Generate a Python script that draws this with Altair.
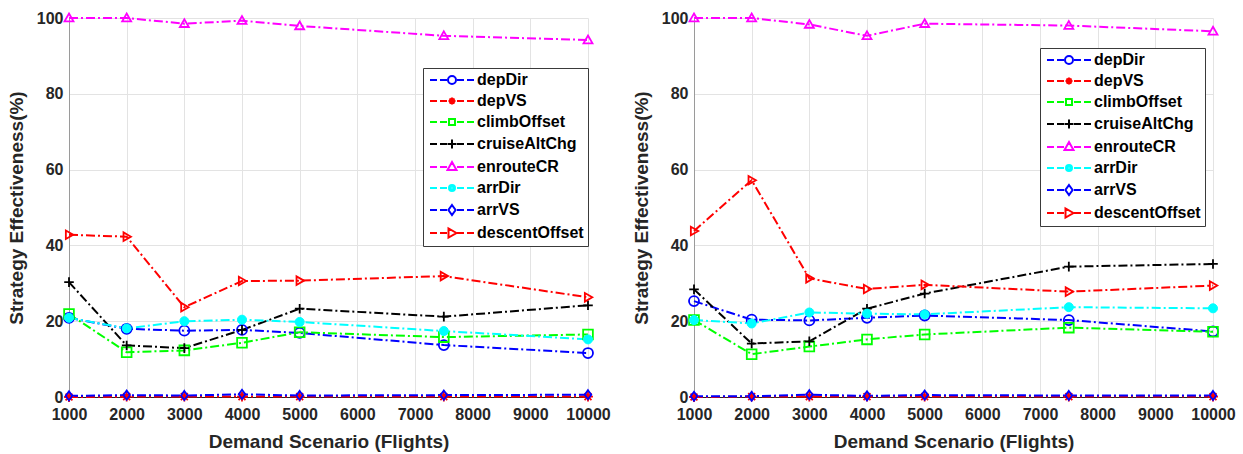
import altair as alt
import pandas as pd

# ---------------- data ----------------
demand = [1000, 2000, 3000, 4000, 5000, 7500, 10000]
series = ["depDir", "depVS", "climbOffset", "cruiseAltChg", "enrouteCR", "arrDir", "arrVS", "descentOffset"]
colors = ["#0000FF", "#FF0000", "#00FF00", "#000000", "#FF00FF", "#00FFFF", "#0000FF", "#FF0000"]

# left panel
left_depDir = [20.9, 18.0, 17.5, 17.7, 16.9, 13.7, 11.6]
left_depVS = [0.0, 0.1, 0.1, 0.1, 0.1, 0.1, 0.1]
left_climbOffset = [21.9, 11.8, 12.3, 14.3, 17.1, 15.8, 16.5]
left_cruiseAltChg = [30.3, 13.6, 12.9, 17.7, 23.3, 21.2, 24.2]
left_enrouteCR = [100.0, 100.0, 98.5, 99.3, 97.9, 95.3, 94.2]
left_arrDir = [20.9, 18.1, 20.0, 20.4, 19.8, 17.4, 15.2]
left_arrVS = [0.3, 0.5, 0.4, 0.7, 0.4, 0.5, 0.6]
left_descentOffset = [42.8, 42.3, 23.7, 30.6, 30.7, 31.9, 26.3]

# right panel
right_depDir = [25.3, 20.4, 20.2, 20.9, 21.5, 20.3, 17.3]
right_depVS = [0.0, 0.1, 0.1, 0.1, 0.1, 0.1, 0.1]
right_climbOffset = [20.3, 11.3, 13.3, 15.2, 16.5, 18.3, 17.2]
right_cruiseAltChg = [28.4, 14.1, 14.7, 23.3, 27.3, 34.4, 35.1]
right_enrouteCR = [100.0, 100.0, 98.3, 95.3, 98.5, 98.0, 96.5]
right_arrDir = [20.3, 19.4, 22.3, 22.0, 21.8, 23.7, 23.4]
right_arrVS = [0.2, 0.2, 0.6, 0.3, 0.5, 0.4, 0.4]
right_descentOffset = [43.8, 57.2, 31.3, 28.5, 29.6, 27.8, 29.4]

x_ticks = [1000, 2000, 3000, 4000, 5000, 6000, 7000, 8000, 9000, 10000]
y_ticks = [0, 20, 40, 60, 80, 100]

left_lists = [left_depDir, left_depVS, left_climbOffset, left_cruiseAltChg,
              left_enrouteCR, left_arrDir, left_arrVS, left_descentOffset]
right_lists = [right_depDir, right_depVS, right_climbOffset, right_cruiseAltChg,
               right_enrouteCR, right_arrDir, right_arrVS, right_descentOffset]


def to_frame(lists):
    rows = []
    for name, vals in zip(series, lists):
        for xv, yv in zip(demand, vals):
            rows.append({"series": name, "demand": xv, "value": yv})
    return pd.DataFrame(rows)


# ---------------- styling ----------------
FONT = "Liberation Sans"
TXT = "#262626"

# plot marker shapes (unit paths)
marker_shapes = [
    "circle",
    "M-1,0H1M0,-1V1M-0.7,-0.7L0.7,0.7M-0.7,0.7L0.7,-0.7",
    "M-1,-1H1V1H-1Z",
    "M-1,0H1M0,-1V1",
    "M0,-0.95L0.95,0.7L-0.95,0.7Z",
    "circle",
    "M0,-1L0.72,0L0,1L-0.72,0Z",
    "M0.95,0L-0.7,-0.95L-0.7,0.95Z",
]
marker_sizes = [100, 81, 64, 144, 169, 81, 144, 160]

# legend symbols (symbolSize 4 -> one path unit = one pixel):
# dashed line with the marker in the middle
DASH = "M-22,0H-15M-12,0H-5M5,0H12M15,0H22"
legend_markers = [
    "M4,0A4,4 0 1,1 -4,0A4,4 0 1,1 4,0Z",
    "M-3.5,0H3.5M0,-3.5V3.5M-2.5,-2.5L2.5,2.5M-2.5,2.5L2.5,-2.5",
    "M-3,-3H3V3H-3Z",
    "M-4.5,0H4.5M0,-4.5V4.5",
    "M0,-5L4.5,3L-4.5,3Z",
    "M3,0A3,3 0 1,1 -3,0A3,3 0 1,1 3,0ZM1.5,0A1.5,1.5 0 1,1 -1.5,0A1.5,1.5 0 1,1 1.5,0Z",
    "M0,-5L3.6,0L0,5L-3.6,0Z",
    "M4.5,0L-3.5,-4.5L-3.5,4.5Z",
]
legend_shapes = [DASH + m for m in legend_markers]

W, H = 519, 379


def panel(df, lx, ly):
    x = alt.X("demand:Q", scale=alt.Scale(domain=[1000, 10000], nice=False, zero=False),
              axis=alt.Axis(values=x_ticks, format="d", title="Demand Scenario (Flights)",
                            grid=True, gridColor="#e3e3e3", domainColor=TXT, ticks=False,
                            labelOverlap=False, labelFlush=False, labelPadding=9, titlePadding=10))
    y = alt.Y("value:Q", scale=alt.Scale(domain=[0, 100], nice=False),
              axis=alt.Axis(values=y_ticks, title="Strategy Effectiveness(%)",
                            grid=True, gridColor="#e3e3e3", domainColor="#9a9a9a", ticks=False,
                            labelPadding=6, titlePadding=10))
    col = alt.Color("series:N", scale=alt.Scale(domain=series, range=colors), legend=None)

    lines = alt.Chart(df).mark_line(strokeWidth=2, strokeDash=[9, 3, 2, 3]).encode(
        x=x, y=y, color=col, detail="series:N")

    pts = alt.Chart(df).transform_filter("datum.series != 'arrDir'").mark_point(
        filled=False, strokeWidth=1.8, opacity=1).encode(
        x=x, y=y, color=col,
        shape=alt.Shape("series:N", scale=alt.Scale(domain=series, range=marker_shapes), legend=None),
        size=alt.Size("series:N", scale=alt.Scale(domain=series, range=marker_sizes), legend=None))

    arr = alt.Chart(df).transform_filter("datum.series == 'arrDir'").mark_point(
        filled=True, shape="circle", size=81, opacity=1, stroke="#00FFFF", strokeWidth=1).encode(
        x=x, y=y, color=col)

    leg = alt.Legend(title=None, orient="none", legendX=lx, legendY=ly,
                     symbolSize=4, symbolStrokeWidth=2, symbolOpacity=1, symbolOffset=17,
                     labelFont=FONT, labelFontWeight="bold", labelFontSize=16, labelColor="#000000",
                     labelOffset=17, strokeColor="#3a3a3a", fillColor="white", padding=4,
                     rowPadding=5, labelLimit=300)
    legend_layer = alt.Chart(df).transform_filter("false").mark_point(filled=False).encode(
        x=x, y=y,
        color=alt.Color("series:N", scale=alt.Scale(domain=series, range=colors), legend=leg),
        shape=alt.Shape("series:N", scale=alt.Scale(domain=series, range=legend_shapes), legend=leg))

    return alt.layer(lines, pts, arr, legend_layer).resolve_scale(
        color="independent", shape="independent", size="independent"
    ).properties(width=W, height=H)


left = panel(to_frame(left_lists), 354, 50)
right = panel(to_frame(right_lists), 346, 30)

chart = alt.hconcat(left, right, spacing=21).properties(
    padding={"left": 7, "top": 9, "right": 5, "bottom": 5}
).configure_view(stroke=None).configure_axis(
    labelFont=FONT, labelFontWeight="bold", labelFontSize=16, labelColor=TXT,
    titleFont=FONT, titleFontWeight="bold", titleFontSize=19, titleColor=TXT,
)

chart.save("out.html", embed_options={"renderer": "svg", "actions": False})
